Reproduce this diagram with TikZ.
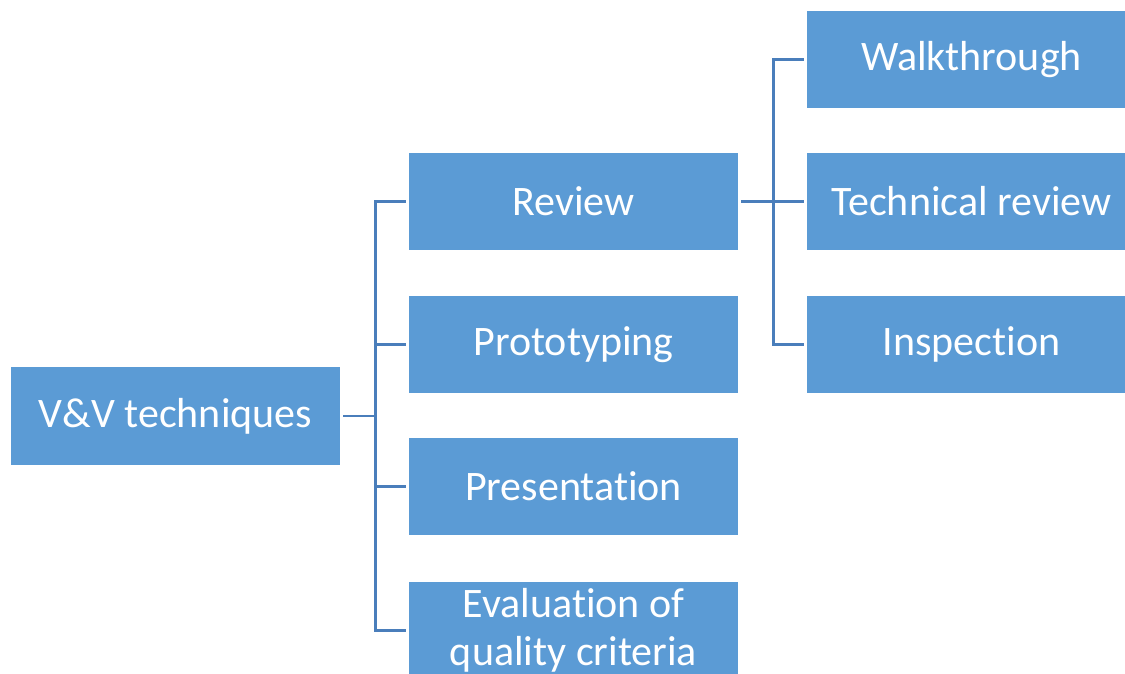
\documentclass[tikz,border=0pt]{standalone}
\usepackage{fontspec}
\setmainfont[Ligatures={NoCommon,NoContextual,NoRare}]{Carlito}
\newcommand{\tiq}{t\kern0pt i}
\definecolor{boxblue}{RGB}{91,155,213}
\definecolor{linkblue}{RGB}{74,126,187}
\tikzset{
  box/.style={fill=boxblue, text=white, minimum width=329pt, minimum height=97pt,
    inner sep=0pt, font=\fontsize{42}{48}\selectfont, align=center, anchor=center},
  link/.style={draw=linkblue, line width=2.7pt}
}
\begin{document}
\begin{tikzpicture}[x=1pt,y=-1pt]
\clip (0,0) rectangle (1125,674);
\node[box, minimum height=98pt] (vv) at (175.5,416) {V\&V techniques};
\node[box] (rev) at (573.5,201.5) {Review};
\node[box] (proto) at (573.5,344.5) {Prototyping};
\node[box] (pres) at (573.5,486.5) {Presenta\tiq on};
\node[box] (eval) at (573.5,630.5) {Evalua\tiq on of\\quality criteria};
\node[box] (walk) at (971.5,59.5) {Walkthrough};
\node[box] (tech) at (971.5,201.5) {Technical review};
\node[box] (insp) at (971.5,344.5) {Inspec\tiq on};
\foreach \c in {rev,proto,pres,eval}
  \draw[link] ([xshift=3pt]vv.east) -- ++(32,0) |- ([xshift=-3pt]\c.west);
\foreach \c in {walk,tech,insp}
  \draw[link] ([xshift=3pt]rev.east) -- ++(32,0) |- ([xshift=-3pt]\c.west);
\end{tikzpicture}
\end{document}
